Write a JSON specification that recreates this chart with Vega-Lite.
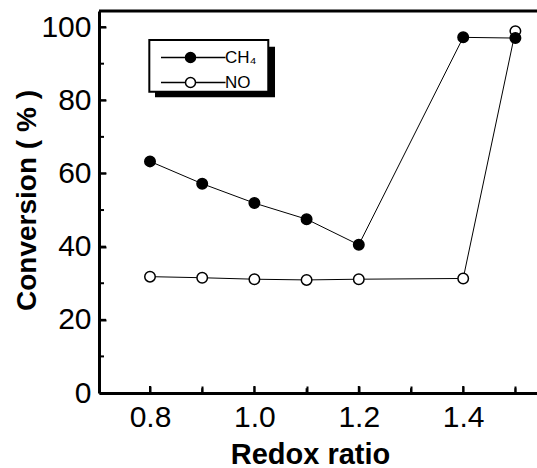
{
  "$schema": "https://vega.github.io/schema/vega-lite/v6.json",
  "autosize": "none",
  "width": 438,
  "height": 382,
  "padding": {"left": 99, "top": 11, "right": 0, "bottom": 75},
  "background": "white",
  "config": {
    "view": {"stroke": null},
    "font": "Liberation Sans",
    "axis": {
      "grid": false,
      "ticks": true,
      "domainColor": "black",
      "domainWidth": 3,
      "tickColor": "black",
      "tickWidth": 2,
      "labelColor": "black",
      "labelFont": "Liberation Sans",
      "labelFontSize": 30,
      "titleColor": "black",
      "titleFont": "Liberation Sans",
      "titleFontSize": 28,
      "titleFontWeight": "bold"
    }
  },
  "data": {
    "values": [
      {"ratio": 0.8, "conv": 31.8, "series": "NO"},
      {"ratio": 0.9, "conv": 31.5, "series": "NO"},
      {"ratio": 1.0, "conv": 31.1, "series": "NO"},
      {"ratio": 1.1, "conv": 30.9, "series": "NO"},
      {"ratio": 1.2, "conv": 31.1, "series": "NO"},
      {"ratio": 1.4, "conv": 31.3, "series": "NO"},
      {"ratio": 1.5, "conv": 98.9, "series": "NO"},
      {"ratio": 0.8, "conv": 63.3, "series": "CH₄"},
      {"ratio": 0.9, "conv": 57.2, "series": "CH₄"},
      {"ratio": 1.0, "conv": 51.9, "series": "CH₄"},
      {"ratio": 1.1, "conv": 47.5, "series": "CH₄"},
      {"ratio": 1.2, "conv": 40.5, "series": "CH₄"},
      {"ratio": 1.4, "conv": 97.2, "series": "CH₄"},
      {"ratio": 1.5, "conv": 97.0, "series": "CH₄"}
    ]
  },
  "layer": [
    {
      "data": {"values": [{}]},
      "mark": {"type": "rect", "fill": "black", "opacity": 1},
      "encoding": {
        "x": {"datum": 0.8096, "type": "quantitative"},
        "x2": {"datum": 1.0395},
        "y": {"datum": 94.6, "type": "quantitative"},
        "y2": {"datum": 80.8}
      }
    },
    {
      "data": {"values": [{}]},
      "mark": {"type": "rect", "fill": "white", "stroke": "black", "strokeWidth": 2, "opacity": 1},
      "encoding": {
        "x": {"datum": 0.7987, "type": "quantitative"},
        "x2": {"datum": 1.0266},
        "y": {"datum": 96.5, "type": "quantitative"},
        "y2": {"datum": 82.3}
      }
    },
    {
      "data": {"values": [{}]},
      "mark": {"type": "rule", "color": "black", "strokeWidth": 3},
      "encoding": {"y": {"datum": 104.4, "type": "quantitative"}}
    },
    {"data": {"values": [{}]}, "mark": {"type": "rule", "color": "black", "strokeWidth": 2}, "encoding": {"x": {"datum": 0.8, "type": "quantitative"}, "y": {"datum": 0, "type": "quantitative"}, "y2": {"datum": 1.91}}},
    {"data": {"values": [{}]}, "mark": {"type": "rule", "color": "black", "strokeWidth": 2}, "encoding": {"x": {"datum": 0.9, "type": "quantitative"}, "y": {"datum": 0, "type": "quantitative"}, "y2": {"datum": 1.3}}},
    {"data": {"values": [{}]}, "mark": {"type": "rule", "color": "black", "strokeWidth": 2}, "encoding": {"x": {"datum": 1.0, "type": "quantitative"}, "y": {"datum": 0, "type": "quantitative"}, "y2": {"datum": 1.91}}},
    {"data": {"values": [{}]}, "mark": {"type": "rule", "color": "black", "strokeWidth": 2}, "encoding": {"x": {"datum": 1.1, "type": "quantitative"}, "y": {"datum": 0, "type": "quantitative"}, "y2": {"datum": 1.3}}},
    {"data": {"values": [{}]}, "mark": {"type": "rule", "color": "black", "strokeWidth": 2}, "encoding": {"x": {"datum": 1.2, "type": "quantitative"}, "y": {"datum": 0, "type": "quantitative"}, "y2": {"datum": 1.91}}},
    {"data": {"values": [{}]}, "mark": {"type": "rule", "color": "black", "strokeWidth": 2}, "encoding": {"x": {"datum": 1.3, "type": "quantitative"}, "y": {"datum": 0, "type": "quantitative"}, "y2": {"datum": 1.3}}},
    {"data": {"values": [{}]}, "mark": {"type": "rule", "color": "black", "strokeWidth": 2}, "encoding": {"x": {"datum": 1.4, "type": "quantitative"}, "y": {"datum": 0, "type": "quantitative"}, "y2": {"datum": 1.91}}},
    {"data": {"values": [{}]}, "mark": {"type": "rule", "color": "black", "strokeWidth": 2}, "encoding": {"x": {"datum": 1.5, "type": "quantitative"}, "y": {"datum": 0, "type": "quantitative"}, "y2": {"datum": 1.3}}},
    {"data": {"values": [{}]}, "mark": {"type": "rule", "color": "black", "strokeWidth": 2}, "encoding": {"y": {"datum": 10, "type": "quantitative"}, "x": {"datum": 0.7023, "type": "quantitative"}, "x2": {"datum": 0.7119}}},
    {"data": {"values": [{}]}, "mark": {"type": "rule", "color": "black", "strokeWidth": 2}, "encoding": {"y": {"datum": 20, "type": "quantitative"}, "x": {"datum": 0.7023, "type": "quantitative"}, "x2": {"datum": 0.7157}}},
    {"data": {"values": [{}]}, "mark": {"type": "rule", "color": "black", "strokeWidth": 2}, "encoding": {"y": {"datum": 30, "type": "quantitative"}, "x": {"datum": 0.7023, "type": "quantitative"}, "x2": {"datum": 0.7119}}},
    {"data": {"values": [{}]}, "mark": {"type": "rule", "color": "black", "strokeWidth": 2}, "encoding": {"y": {"datum": 40, "type": "quantitative"}, "x": {"datum": 0.7023, "type": "quantitative"}, "x2": {"datum": 0.7157}}},
    {"data": {"values": [{}]}, "mark": {"type": "rule", "color": "black", "strokeWidth": 2}, "encoding": {"y": {"datum": 50, "type": "quantitative"}, "x": {"datum": 0.7023, "type": "quantitative"}, "x2": {"datum": 0.7119}}},
    {"data": {"values": [{}]}, "mark": {"type": "rule", "color": "black", "strokeWidth": 2}, "encoding": {"y": {"datum": 60, "type": "quantitative"}, "x": {"datum": 0.7023, "type": "quantitative"}, "x2": {"datum": 0.7157}}},
    {"data": {"values": [{}]}, "mark": {"type": "rule", "color": "black", "strokeWidth": 2}, "encoding": {"y": {"datum": 70, "type": "quantitative"}, "x": {"datum": 0.7023, "type": "quantitative"}, "x2": {"datum": 0.7119}}},
    {"data": {"values": [{}]}, "mark": {"type": "rule", "color": "black", "strokeWidth": 2}, "encoding": {"y": {"datum": 80, "type": "quantitative"}, "x": {"datum": 0.7023, "type": "quantitative"}, "x2": {"datum": 0.7157}}},
    {"data": {"values": [{}]}, "mark": {"type": "rule", "color": "black", "strokeWidth": 2}, "encoding": {"y": {"datum": 90, "type": "quantitative"}, "x": {"datum": 0.7023, "type": "quantitative"}, "x2": {"datum": 0.7119}}},
    {"data": {"values": [{}]}, "mark": {"type": "rule", "color": "black", "strokeWidth": 2}, "encoding": {"y": {"datum": 100, "type": "quantitative"}, "x": {"datum": 0.7023, "type": "quantitative"}, "x2": {"datum": 0.7157}}},
    {
      "mark": {"type": "line", "color": "black", "strokeWidth": 1},
      "encoding": {
        "x": {
          "field": "ratio", "type": "quantitative",
          "scale": {"domain": [0.7023, 1.5414], "nice": false, "zero": false},
          "axis": {
            "title": "Redox ratio",
            "titleFontSize": 29,
            "values": [0.8, 0.9, 1.0, 1.1, 1.2, 1.3, 1.4, 1.5],
            "labelExpr": "(datum.value > 0.85 && datum.value < 0.95) || (datum.value > 1.05 && datum.value < 1.15) || (datum.value > 1.25 && datum.value < 1.35) || datum.value > 1.45 ? '' : format(datum.value, '.1f')",
            "tickSize": -7,
            "labelPadding": 16,
            "labelFlush": false,
            "labelOverlap": false,
            "titleX": 211,
            "titleY": 70,
            "titleBaseline": "alphabetic",
            "titleAlign": "center"
          }
        },
        "y": {
          "field": "conv", "type": "quantitative",
          "scale": {"domain": [0, 104.4], "nice": false},
          "axis": {
            "title": "Conversion ( % )",
            "values": [0, 10, 20, 30, 40, 50, 60, 70, 80, 90, 100],
            "labelExpr": "indexof([0, 20, 40, 60, 80, 100], datum.value) >= 0 ? datum.label : ''",
            "tickSize": -7,
            "labelPadding": 15,
            "labelOverlap": false,
            "titleX": -64,
            "titleY": 189,
            "titleBaseline": "alphabetic",
            "titleAlign": "center",
            "titleAngle": -90
          }
        },
        "detail": {"field": "series"}
      }
    },
    {
      "mark": {"type": "point", "shape": "circle", "size": 110, "stroke": "black", "strokeWidth": 1.5, "opacity": 1, "filled": false},
      "encoding": {
        "x": {"field": "ratio", "type": "quantitative"},
        "y": {"field": "conv", "type": "quantitative"},
        "fill": {
          "field": "series", "type": "nominal",
          "scale": {"domain": ["CH₄", "NO"], "range": ["black", "white"]},
          "legend": {
            "title": null,
            "orient": "none",
            "legendX": 50,
            "legendY": 33,
            "direction": "vertical",
            "padding": 5,
            "rowPadding": 7,
            "symbolType": "M-0.3,0H4.6M6.6,0H12.6M6.6,0A1,1 0 1,1 4.6,0A1,1 0 1,1 6.6,0",
            "symbolSize": 100,
            "symbolStrokeColor": "black",
            "symbolStrokeWidth": 1.5,
            "labelOffset": 54,
            "labelFont": "Liberation Sans",
            "labelFontSize": 17,
            "labelColor": "black"
          }
        }
      }
    }
  ]
}
